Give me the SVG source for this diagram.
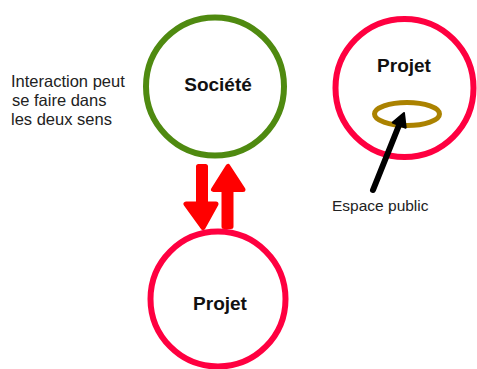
<svg xmlns="http://www.w3.org/2000/svg" width="477" height="369" viewBox="0 0 477 369">
<style>
.node{fill:#fff;stroke-width:6}
.lbl{font-family:"Liberation Sans",Arial,sans-serif;font-weight:bold;font-size:19px;fill:#111;text-anchor:middle}
.txt{font-family:"Liberation Sans",Arial,sans-serif;fill:#222}
.red{fill:#ff0000;stroke:#ff0000;stroke-width:5;stroke-linejoin:round;stroke-linecap:round}
</style>
<rect width="477" height="369" fill="#fff"/>
<g id="societe">
<circle class="node" cx="215" cy="86.5" r="69" stroke="#4f8a10"/>
<text class="lbl" x="218" y="91">Société</text>
</g>
<g id="projet-bas">
<circle class="node" cx="218" cy="299" r="67.5" stroke="#ff0040"/>
<text class="lbl" x="220" y="310">Projet</text>
</g>
<g id="projet-haut">
<circle class="node" cx="404.5" cy="88" r="69" stroke="#ff0040"/>
<text class="lbl" x="404" y="72">Projet</text>
<ellipse cx="407" cy="114" rx="32.5" ry="11.5" fill="none" stroke="#ab8200" stroke-width="5"/>
</g>
<g id="texte-gauche" class="txt" font-size="16.5">
<text x="11" y="86.5">Interaction peut</text>
<text x="12" y="105.5">se faire dans</text>
<text x="11" y="124.5">les deux sens</text>
</g>
<g id="connecteurs">
<path class="red" d="M198.5,166.5 L205.5,166.5 L205.5,204 L216,204 L203,227.5 L186,204 L198.5,204 Z"/>
<path class="red" d="M224,226.5 L231,226.5 L231,189.5 L243,189.5 L228,166.5 L213.5,189.5 L224,189.5 Z"/>
<line x1="373" y1="190" x2="399.5" y2="124" stroke="#000" stroke-width="6" stroke-linecap="round"/>
<polygon points="404,113 405.7,127.7 392.7,122.5" fill="#000" stroke="#000" stroke-width="2" stroke-linejoin="round"/>
</g>
<text class="txt" x="332" y="211" font-size="15.5">Espace public</text>
</svg>
